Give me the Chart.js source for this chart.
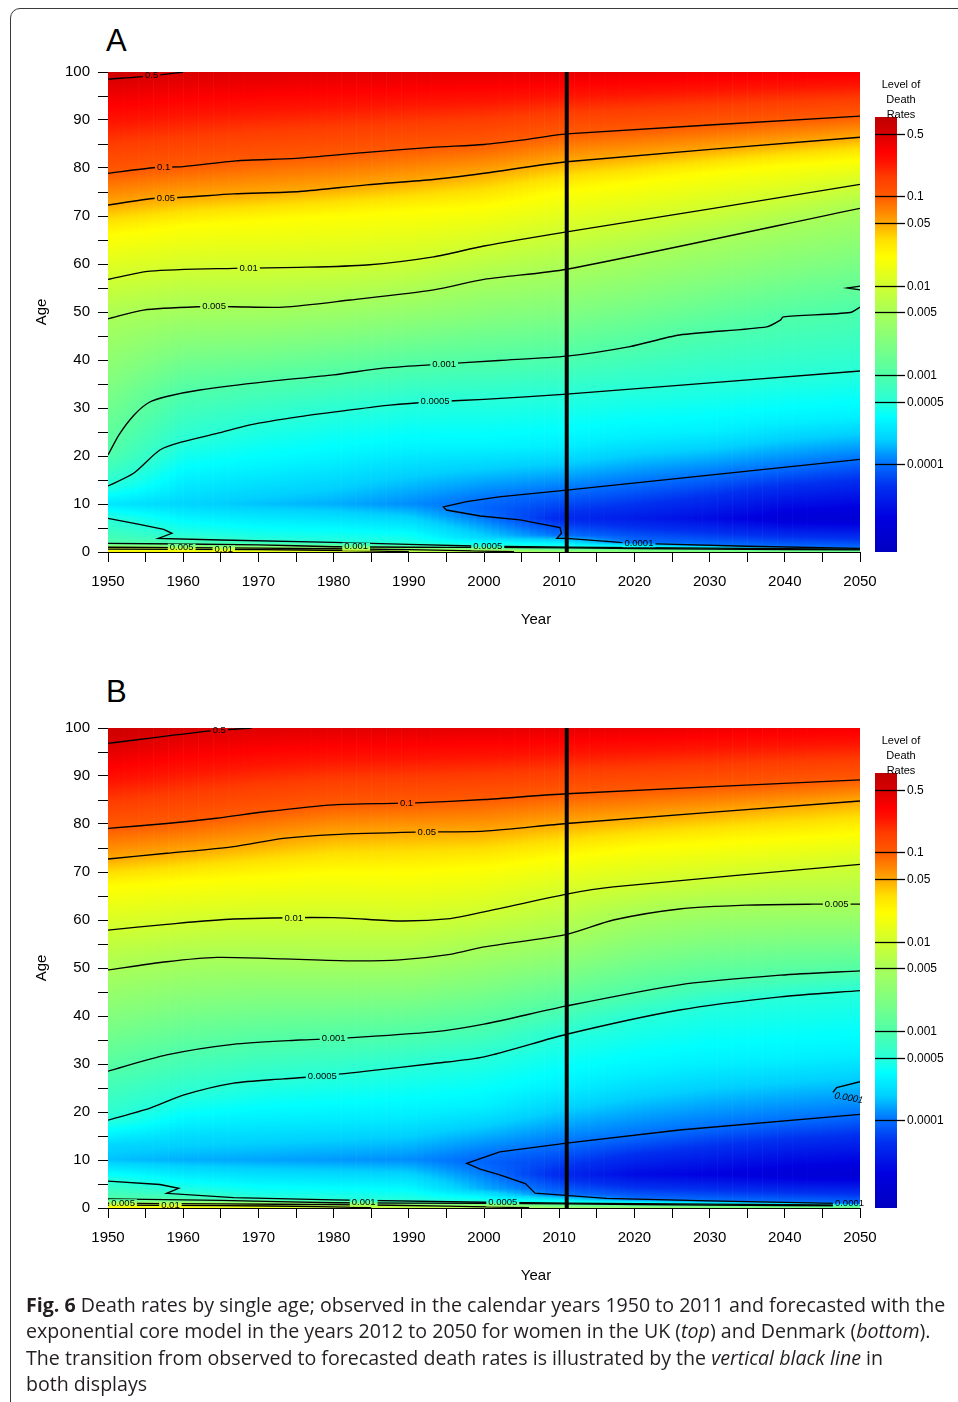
<!DOCTYPE html>
<html>
<head>
<meta charset="utf-8">
<script src="https://cdn.jsdelivr.net/npm/chart.js@4.4.0/dist/chart.umd.min.js"></script>
<style>
  body { margin: 0; background: #fff; width: 958px; height: 1402px; position: relative; overflow: hidden; font-family: "Liberation Sans", Arial, sans-serif; }
  .frame { position: absolute; left: 10px; top: 8px; width: 1100px; height: 1600px; border: 1.5px solid #3a3a3a; border-radius: 10px; }
  .panel { position: absolute; left: 0; width: 958px; height: 650px; }
  .tag { position: absolute; left: 106px; font-size: 31px; color: #000; }
  .caption { position: absolute; left: 26px; top: 1292px; font-family: "Open Sans", Lato, sans-serif; font-size: 19.6px; line-height: 26.3px; color: #231f20; white-space: nowrap; }
</style>
</head>
<body>
<div class="frame"></div>
<div class="tag" style="top:23px">A</div>
<div class="tag" style="top:674px">B</div>
<div class="panel" style="top:0"><canvas id="ukChart" width="958" height="650"></canvas></div>
<div class="panel" style="top:656px"><canvas id="dkChart" width="958" height="650"></canvas></div>
<div class="caption"><b>Fig. 6</b> Death rates by single age; observed in the calendar years 1950 to 2011 and forecasted with the<br>exponential core model in the years 2012 to 2050 for women in the UK (<i>top</i>) and Denmark (<i>bottom</i>).<br>The transition from observed to forecasted death rates is illustrated by the <i>vertical black line</i> in<br>both displays</div>
<script>
// ---------- data ----------
const profileYears = [1950, 1960, 1970, 1980, 1990, 2000, 2010, 2020, 2030, 2040, 2050];
const forecastStart = 2011;
const legendLevels = [0.5, 0.1, 0.05, 0.01, 0.005, 0.001, 0.0005, 0.0001];
const rateRange = [1.03e-5, 0.76];

// death rate by age ([age, rate]) for each year in profileYears - UK women
const ukProfiles = [
  [[0,0.03],[0.6,0.01],[1,0.005],[1.8,0.001],[4,0.0007],[7,0.0005],[10,0.00025],[13.8,0.0005],[20.2,0.001],[48.7,0.005],[56.8,0.01],[66,0.021],[72.3,0.05],[78.9,0.1],[98.5,0.5],[100,0.6]],
  [[0,0.025],[0.6,0.01],[0.9,0.005],[1.7,0.001],[3.5,0.0005],[10,0.0002],[16,0.0003],[23,0.0005],[33.5,0.001],[51,0.005],[58.8,0.01],[68,0.021],[73.9,0.05],[80.3,0.1],[100,0.5]],
  [[0,0.018],[0.5,0.01],[0.8,0.005],[1.6,0.001],[2.4,0.0005],[10,0.00017],[18,0.0003],[26.8,0.0005],[35.3,0.001],[51,0.005],[59.2,0.01],[69,0.021],[74.8,0.05],[81.7,0.1],[100,0.47]],
  [[0,0.012],[0.4,0.01],[0.7,0.005],[1.5,0.001],[2.0,0.0005],[10,0.00015],[20,0.0003],[29.3,0.0005],[36.9,0.001],[52.3,0.005],[59.6,0.01],[70,0.021],[75.8,0.05],[82.6,0.1],[100,0.45]],
  [[0,0.008],[0.5,0.005],[1.2,0.001],[1.6,0.0005],[10,0.00012],[22,0.0003],[31.1,0.0005],[38.7,0.001],[53.9,0.005],[60.8,0.01],[71,0.021],[77.2,0.05],[83.9,0.1],[100,0.44]],
  [[0,0.006],[0.3,0.005],[1.0,0.001],[1.2,0.0005],[3,0.0002],[7.4,0.0001],[9,0.00009],[11.1,0.0001],[22,0.0003],[31.8,0.0005],[39.6,0.001],[56.7,0.005],[63.8,0.01],[72,0.021],[78.9,0.05],[84.9,0.1],[100,0.43]],
  [[0,0.004],[0.8,0.001],[1.0,0.0005],[3.5,0.0001],[7,0.00005],[12.8,0.0001],[22,0.00028],[32.8,0.0005],[40.7,0.001],[58.8,0.005],[66.5,0.01],[75,0.021],[81.2,0.05],[87,0.1],[100,0.42]],
  [[0,0.0035],[0.7,0.001],[0.9,0.0005],[1.95,0.0001],[7,0.00004],[14.4,0.0001],[24,0.00028],[34,0.0005],[43.1,0.001],[61.9,0.005],[68.9,0.01],[77,0.021],[82.5,0.05],[87.9,0.1],[100,0.4]],
  [[0,0.003],[0.6,0.001],[0.8,0.0005],[1.4,0.0001],[7,0.00003],[16,0.0001],[25,0.00028],[35.2,0.0005],[46.3,0.001],[65.1,0.005],[71.4,0.01],[79,0.021],[83.8,0.05],[88.9,0.1],[100,0.38]],
  [[0,0.0025],[0.5,0.001],[0.7,0.0005],[1.0,0.0001],[7,0.00002],[17.7,0.0001],[27,0.00028],[36.4,0.0005],[49.1,0.001],[68.3,0.005],[74,0.01],[80.5,0.021],[85.1,0.05],[89.9,0.1],[100,0.36]],
  [[0,0.002],[0.4,0.001],[0.6,0.0005],[0.75,0.0001],[7,0.000018],[19.3,0.0001],[28,0.00028],[37.7,0.0005],[51,0.001],[71.6,0.005],[76.6,0.01],[81.7,0.021],[86.4,0.05],[90.8,0.1],[100,0.35]]
];

// same for Danish women
const dkProfiles = [
  [[0,0.025],[0.6,0.01],[1,0.005],[1.8,0.001],[5.6,0.0005],[10,0.00017],[13,0.0002],[18.3,0.0005],[28.5,0.001],[49.6,0.005],[57.9,0.01],[67,0.021],[72.7,0.05],[79.1,0.1],[96.8,0.5],[100,0.6]],
  [[0,0.02],[0.6,0.01],[1,0.005],[1.7,0.001],[3.5,0.0005],[10,0.00015],[15,0.00022],[23.5,0.0005],[32.6,0.001],[51.7,0.005],[59.4,0.01],[68,0.021],[74.2,0.05],[80.5,0.1],[99.5,0.5],[100,0.52]],
  [[0,0.015],[0.5,0.01],[0.9,0.005],[1.6,0.001],[2.0,0.0005],[10,0.00014],[17,0.00025],[26.2,0.0005],[34.5,0.001],[52.1,0.005],[60.3,0.01],[69,0.021],[75.9,0.05],[82.4,0.1],[100,0.47]],
  [[0,0.01],[0.6,0.005],[1.4,0.001],[1.7,0.0005],[10,0.00013],[18,0.00026],[27.7,0.0005],[35.5,0.001],[51.6,0.005],[60.5,0.01],[70,0.021],[77.8,0.05],[84,0.1],[100,0.45]],
  [[0,0.008],[0.5,0.005],[1.2,0.001],[1.4,0.0005],[10,0.00012],[19,0.00027],[29.5,0.0005],[36.4,0.001],[51.8,0.005],[59.9,0.01],[70,0.021],[78.3,0.05],[84.4,0.1],[100,0.44]],
  [[0,0.006],[0.4,0.005],[1.0,0.001],[1.2,0.0005],[4,0.00015],[8,0.0001],[9.5,0.00009],[11.1,0.0001],[21,0.00028],[31.5,0.0005],[38.3,0.001],[54.4,0.005],[61.7,0.01],[71,0.021],[78.5,0.05],[85.1,0.1],[100,0.43]],
  [[0,0.004],[0.8,0.001],[1.0,0.0005],[2.8,0.0001],[7,0.00005],[13.3,0.0001],[25,0.00028],[36,0.0005],[41.9,0.001],[56.8,0.005],[65.1,0.01],[73,0.021],[80,0.05],[86.2,0.1],[100,0.42]],
  [[0,0.0035],[0.7,0.001],[0.9,0.0005],[1.8,0.0001],[7,0.00003],[15.2,0.0001],[28,0.00028],[39.6,0.0005],[44.8,0.001],[61.2,0.005],[67.3,0.01],[75,0.021],[81.2,0.05],[86.9,0.1],[100,0.4]],
  [[0,0.003],[0.6,0.001],[0.8,0.0005],[1.5,0.0001],[7,0.000025],[17,0.0001],[30,0.00028],[42.6,0.0005],[47.3,0.001],[63,0.005],[68.8,0.01],[76,0.021],[82.4,0.05],[87.7,0.1],[100,0.38]],
  [[0,0.0025],[0.5,0.001],[0.7,0.0005],[1.2,0.0001],[7,0.00002],[18.4,0.0001],[31,0.00028],[44.1,0.0005],[48.6,0.001],[63.3,0.005],[70.2,0.01],[77,0.021],[83.6,0.05],[88.4,0.1],[100,0.36]],
  [[0,0.002],[0.4,0.001],[0.6,0.0005],[0.9,0.0001],[7,0.000018],[19.5,0.0001],[32,0.00028],[45.3,0.0005],[49.4,0.001],[63.3,0.005],[71.6,0.01],[78,0.021],[84.8,0.05],[89.2,0.1],[100,0.35]]
];

// contour lines, [year, age] - UK
const ukL500 = [[1950,98.5],[1955.8,99.2],[1960,100]];
const ukL100 = [[1950,78.9],[1956.3,80.1],[1960,80.3],[1967,81.5],[1975,82],[1984,83.2],[1993,84.3],[2000,84.9],[2005,85.8],[2011,87.1],[2050,90.8]];
const ukL050 = [[1950,72.3],[1956.3,73.7],[1960,73.9],[1966.7,74.6],[1975.5,75.1],[1984.4,76.5],[1993.3,77.6],[2000,78.9],[2011,81.3],[2050,86.4]];
const ukL010 = [[1950,56.8],[1955.6,58.5],[1966.7,59.1],[1975.5,59.3],[1984.4,59.8],[1993.3,61.5],[2000,63.75],[2011,66.7],[2030.5,71.6],[2050,76.6]];
const ukL005 = [[1950,48.6],[1954.7,50.4],[1962.2,51.1],[1966.6,51.1],[1973.3,51],[1982.2,52.5],[1993.3,54.6],[2000,56.8],[2011,58.9],[2050,71.6]];
const ukL001 = [[1950,20.2],[1951.5,24.5],[1953.5,28.6],[1955.5,31.2],[1957.8,32.4],[1962.2,33.75],[1971.1,35.5],[1980,36.9],[1986.6,38.3],[1992.8,39],[2002,39.9],[2011,40.8],[2019.4,42.8],[2026,45.2],[2037.6,46.9],[2039.4,48.3],[2039.8,49],[2048.7,49.9],[2050,51]];
const ukL0005 = [[1950,13.75],[1953.4,16.4],[1956.9,21.25],[1960,23],[1964.5,24.7],[1968.9,26.5],[1975.5,28.2],[1982.2,29.6],[1987.5,30.6],[1993.5,31.3],[2000,31.8],[2011,32.9],[2050,37.7]];
const ukLow0005 = [[1950,7],[1954,5.8],[1957.4,4.7],[1958.5,3.9],[1956.7,2.85],[1965,2.5],[1980,2.0],[1990,1.6],[2000,1.2],[2011,1.0],[2030,0.8],[2050,0.6]];
const ukL0001 = [[2050,0.75],[2035,1.2],[2023,1.7],[2018.1,2.0],[2011,2.85],[2009.7,2.85],[2010.3,3.9],[2010.1,5.1],[2004.8,6.7],[1999.5,7.5],[1995,8.75],[1994.6,9.4],[1997.7,10.5],[2002,11.5],[2011,12.9],[2030,16.0],[2050,19.3]];
const ukInf010 = [[1950,0.6],[1970,0.5],[1982,0.3],[1990,0.05]];
const ukInf005 = [[1950,1.0],[1970,0.8],[1990,0.5],[2004,0.05]];
const ukInf001 = [[1950,1.8],[1970,1.5],[1980,1.1],[1990,1.0],[2000,0.95],[2011,0.85],[2030,0.6],[2050,0.45]];
const ukNotch = [[2050,55.4],[2048.3,55.0],[2050,54.6]];

// contour lines, [year, age] - Denmark
const dkL500 = [[1950,96.8],[1963.6,99.4],[1969.1,100]];
const dkL100 = [[1950,79.1],[1957.8,80.1],[1964.4,81.2],[1971.1,82.6],[1980,84.0],[1988,84.3],[1991,84.4],[2000,85.1],[2011,86.3],[2050,89.2]];
const dkL050 = [[1950,72.7],[1957.8,73.9],[1966.7,75.3],[1973.3,77],[1980,77.8],[1991,78.3],[2000,78.5],[2011,80.1],[2050,84.8]];
const dkL010 = [[1950,57.9],[1957.8,59.1],[1966.7,60.2],[1980,60.5],[1988.8,59.8],[1995.5,60.3],[2000,61.7],[2011,65.4],[2017.2,66.9],[2050,71.6]];
const dkL005 = [[1950,49.6],[1957.8,51.3],[1964.5,52.2],[1973.3,51.9],[1982.2,51.5],[1988.8,51.7],[1995.5,52.85],[2000,54.4],[2011,57],[2017.2,60],[2026,62.3],[2034.9,63.1],[2043.8,63.3],[2050,63.3]];
const dkL001 = [[1950,28.5],[1957.8,31.9],[1966.6,34.1],[1975.5,35],[1980.3,35.3],[1993.3,36.7],[2000,38.3],[2011,42.1],[2026,46.5],[2039.4,48.5],[2050,49.4]];
const dkL0005 = [[1950,18.3],[1955.6,20.8],[1960,23.5],[1966.7,26],[1973.3,26.9],[1978.4,27.5],[1984.4,28.5],[1993.3,30.1],[2000,31.5],[2011,36.2],[2026,41.25],[2039.4,44],[2050,45.3]];
const dkLow0005 = [[1950,5.6],[1956.9,4.9],[1959.4,4.1],[1957.8,3.06],[1966.7,2.15],[1980,1.7],[2000,1.2],[2011,1.0],[2030,0.8],[2050,0.6]];
const dkL0001 = [[2050,0.9],[2045,1.0],[2030,1.5],[2016.3,2.0],[2006.8,3.1],[2005.5,5.1],[2002.1,6.9],[1999.5,8.1],[1997.7,9.3],[2002.1,11.7],[2011,13.5],[2026,16.25],[2050,19.5]];
const dkBump0001 = [[2046.4,24.1],[2046.9,25.1],[2050,26.3]];
const dkInf010 = [[1950,0.6],[1965,0.5],[1978,0.3],[1985,0.05]];
const dkInf005 = [[1950,1.0],[1965,0.85],[1980,0.7],[1995,0.4],[2006,0.05]];
const dkInf001 = [[1950,1.9],[1965,1.6],[1980,1.1],[2000,0.95],[2011,0.85],[2030,0.6],[2050,0.45]];

// inline contour labels: [text, line, year]
const ukLabels = [
  ['0.5', ukL500, 1955.8], ['0.1', ukL100, 1957.4], ['0.05', ukL050, 1957.7], ['0.01', ukL010, 1968.7],
  ['0.005', ukL005, 1964.1], ['0.001', ukL001, 1994.7], ['0.0005', ukL0005, 1993.5], ['0.0001', ukL0001, 2020.6],
  ['0.005', ukInf005, 1959.8], ['0.01', ukInf010, 1965.4], ['0.001', ukInf001, 1983], ['0.0005', ukLow0005, 2000.5]
];
const dkLabels = [
  ['0.5', dkL500, 1964.8], ['0.1', dkL100, 1989.7], ['0.05', dkL050, 1992.4], ['0.01', dkL010, 1974.7],
  ['0.005', dkL005, 2046.9], ['0.001', dkL001, 1980], ['0.0005', dkL0005, 1978.5], ['0.0001', dkL0001, 2048.6],
  ['0.005', dkInf005, 1952], ['0.01', dkInf010, 1958.3], ['0.001', dkInf001, 1984], ['0.0005', dkLow0005, 2002.5]
];

// ---------- colours ----------
const FONT = '"Liberation Sans", Arial, Helvetica, sans-serif';
const palette = [
  [-5.0, '#0000c0'], [-4.6, '#0000e0'], [-4.25, '#0030f0'], [-4.0, '#0070ff'], [-3.73, '#00d0ff'],
  [-3.47, '#00ffff'], [-3.3, '#28ffd8'], [-3.0, '#50ffa8'], [-2.65, '#80ff80'], [-2.3, '#a8ff58'],
  [-2.0, '#d0ff30'], [-1.68, '#ffff00'], [-1.49, '#ffe000'], [-1.33, '#ffb000'], [-1.0, '#ff5a00'],
  [-0.78, '#ff3c00'], [-0.62, '#ff1400'], [-0.5, '#ff0000'], [-0.3, '#d80000'], [-0.12, '#c00000']
];
const paletteRgb = palette.map(([l, h]) => [l, [1, 3, 5].map(i => parseInt(h.slice(i, i + 2), 16))]);

function colourFor(lv) {
  const p = paletteRgb;
  if (lv <= p[0][0]) return 'rgb(' + p[0][1] + ')';
  for (let i = 1; i < p.length; i++) {
    if (lv <= p[i][0]) {
      const t = (lv - p[i - 1][0]) / (p[i][0] - p[i - 1][0]);
      return 'rgb(' + p[i - 1][1].map((v, k) => Math.round(v + (p[i][1][k] - v) * t)) + ')';
    }
  }
  return 'rgb(' + p[p.length - 1][1] + ')';
}

function logAtAge(profile, age) {
  if (age <= profile[0][0]) return Math.log10(profile[0][1]);
  for (let i = 1; i < profile.length; i++) {
    if (age <= profile[i][0]) {
      const [a0, r0] = profile[i - 1], [a1, r1] = profile[i];
      const t = (age - a0) / (a1 - a0);
      return Math.log10(r0) * (1 - t) + Math.log10(r1) * t;
    }
  }
  return Math.log10(profile[profile.length - 1][1]);
}

function logRate(profiles, year, age) {
  let j = 0;
  while (j < profileYears.length - 2 && year > profileYears[j + 1]) j++;
  const t = Math.min(1, Math.max(0, (year - profileYears[j]) / (profileYears[j + 1] - profileYears[j])));
  return logAtAge(profiles[j], age) * (1 - t) + logAtAge(profiles[j + 1], age) * t;
}

// one cell per calendar year, one pixel row per step in age
function paintCells(chart, profiles, box) {
  const {ctx, chartArea: ca, scales: {x, y}} = chart;
  const b = box || ca;
  const left = Math.max(b.left, ca.left), right = Math.min(b.right, ca.right);
  const top = Math.max(b.top, ca.top), bottom = Math.min(b.bottom, ca.bottom);
  ctx.save();
  ctx.beginPath();
  ctx.rect(left, top, right - left, bottom - top);
  ctx.clip();
  for (let yr = x.min; yr < x.max; yr++) {
    const x0 = x.getPixelForValue(yr), x1 = x.getPixelForValue(yr + 1);
    if (x1 < left || x0 > right) continue;
    for (let py = Math.floor(top); py < bottom; py++) {
      const age = y.getValueForPixel(py + 0.5);
      ctx.fillStyle = colourFor(logRate(profiles, yr + 0.5, age));
      ctx.fillRect(x0, py, x1 - x0 + 0.6, 1);
    }
  }
  ctx.restore();
}

function ageOnLine(pts, year) {
  for (let i = 1; i < pts.length; i++) {
    const [x0, y0] = pts[i - 1], [x1, y1] = pts[i];
    if (x0 !== x1 && (year - x0) * (year - x1) <= 0) return y0 + (y1 - y0) * (year - x0) / (x1 - x0);
  }
  return pts[0][1];
}

function panelPlugin(profiles, labels, extraLabel) {
  return {
    id: 'deathRatePanel',
    beforeDatasetsDraw(chart) { paintCells(chart, profiles); },
    afterDatasetsDraw(chart) {
      const {ctx, scales: {x, y}} = chart;
      labels.forEach(([text, line, year]) => {
        const px = x.getPixelForValue(year), py = y.getPixelForValue(ageOnLine(line, year));
        ctx.font = '9.5px ' + FONT;
        const w = ctx.measureText(text).width;
        paintCells(chart, profiles, {left: px - w / 2 - 2, right: px + w / 2 + 2, top: py - 4, bottom: py + 4});
        ctx.save();
        ctx.font = '9.5px ' + FONT;
        ctx.fillStyle = '#000';
        ctx.textAlign = 'center';
        ctx.textBaseline = 'middle';
        ctx.fillText(text, px, py);
        ctx.restore();
      });
      if (extraLabel) {
        const [text, year, age, angle] = extraLabel;
        ctx.save();
        ctx.translate(x.getPixelForValue(year), y.getPixelForValue(age));
        ctx.rotate(angle * Math.PI / 180);
        ctx.font = 'italic 9.5px ' + FONT;
        ctx.fillStyle = '#000';
        ctx.textAlign = 'center';
        ctx.textBaseline = 'middle';
        ctx.fillText(text, 0, 0);
        ctx.restore();
      }
    },
    afterDraw(chart) {
      const {ctx, chartArea: ca} = chart;
      const c = chart.scales.c;
      const bx = ca.right + 15;
      const top = c.getPixelForValue(rateRange[1]), bot = c.getPixelForValue(rateRange[0]);
      ctx.save();
      for (let py = Math.floor(top); py < Math.ceil(bot); py++) {
        ctx.fillStyle = colourFor(Math.log10(c.getValueForPixel(py + 0.5)));
        ctx.fillRect(bx, py, 22, 1);
      }
      ctx.strokeStyle = '#000';
      ctx.lineWidth = 1.3;
      ctx.fillStyle = '#000';
      ctx.font = '12px ' + FONT;
      ctx.textBaseline = 'middle';
      ctx.textAlign = 'left';
      legendLevels.forEach(l => {
        const py = Math.round(c.getPixelForValue(l)) + 0.5;
        ctx.beginPath();
        ctx.moveTo(bx, py);
        ctx.lineTo(bx + 30, py);
        ctx.stroke();
        ctx.fillText(String(l), bx + 32, py);
      });
      ctx.font = '11px ' + FONT;
      ctx.textAlign = 'center';
      ['Level of', 'Death', 'Rates'].forEach((t, i) => ctx.fillText(t, bx + 26, 85 + i * 15));
      ctx.font = '15px ' + FONT;
      ctx.fillText('Year', 536, 620);
      ctx.restore();
    }
  };
}

function lineSet(pts, width, tension) {
  return {
    data: pts.map(([x, y]) => ({x, y})),
    showLine: true,
    borderColor: '#000',
    borderWidth: width,
    pointRadius: 0,
    tension: tension
  };
}

function makePanel(id, profiles, smoothLines, sharpLines, labels, extraLabel) {
  const datasets = [lineSet([[forecastStart, 0], [forecastStart, 100]], 4, 0)]
    .concat(smoothLines.map(l => lineSet(l, 1.35, 0.25)))
    .concat(sharpLines.map(l => lineSet(l, 1.35, 0)));
  const axisFont = {size: 15, family: FONT};
  new Chart(document.getElementById(id), {
    type: 'scatter',
    data: {datasets},
    options: {
      responsive: false,
      animation: false,
      events: [],
      layout: {padding: {top: 72, right: 98, left: 0, bottom: 0}},
      plugins: {legend: {display: false}, tooltip: {enabled: false}},
      scales: {
        x: {
          type: 'linear', min: 1950, max: 2050, z: 1,
          border: {display: true, color: '#000', width: 1},
          grid: {display: true, drawOnChartArea: false, drawTicks: true, tickLength: 10, color: '#000', lineWidth: 1},
          ticks: {stepSize: 5, autoSkip: false, maxRotation: 0, padding: 11, color: '#000', font: axisFont,
                  callback: v => (v % 10 === 0 ? String(v) : '')},
          afterFit: s => { s.height = 98; }
        },
        y: {
          type: 'linear', min: 0, max: 100, z: 1,
          border: {display: true, color: '#000', width: 1},
          grid: {display: true, drawOnChartArea: false, drawTicks: true, tickLength: 10, color: '#000', lineWidth: 1},
          ticks: {stepSize: 5, autoSkip: false, padding: 8, color: '#000', font: axisFont,
                  callback: v => (v % 10 === 0 ? String(v) : '')},
          title: {display: true, text: 'Age', color: '#000', font: axisFont, padding: {top: 33, bottom: 0}},
          afterFit: s => { s.width = 108; }
        },
        c: {type: 'logarithmic', display: false, position: 'right', bounds: 'data', min: 1.03e-5, max: 2.48}
      }
    },
    plugins: [panelPlugin(profiles, labels, extraLabel)]
  });
}

makePanel('ukChart', ukProfiles,
  [ukL500, ukL100, ukL050, ukL010, ukL005, ukL001, ukL0005, ukInf010, ukInf005, ukInf001],
  [ukLow0005, ukL0001, ukNotch],
  ukLabels, null);

makePanel('dkChart', dkProfiles,
  [dkL500, dkL100, dkL050, dkL010, dkL005, dkL001, dkL0005, dkInf010, dkInf005, dkInf001],
  [dkLow0005, dkL0001, dkBump0001],
  dkLabels, ['0.0001', 2048.5, 22.9, 10]);
</script>
</body>
</html>
